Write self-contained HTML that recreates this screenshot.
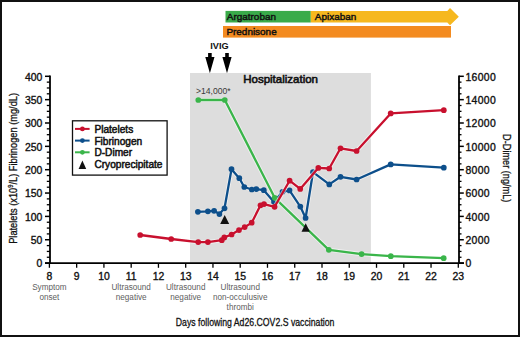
<!DOCTYPE html>
<html><head><meta charset="utf-8"><style>
html,body{margin:0;padding:0;background:#fff;}
body{width:520px;height:337px;overflow:hidden;}
svg{display:block;}
</style></head><body>
<svg width="520" height="337" viewBox="0 0 520 337">
<rect x="0" y="0" width="520" height="337" fill="#fff"/>
<rect x="190" y="73" width="180.9" height="190" fill="#dddddd"/>
<line x1="50" y1="75.6" x2="50" y2="264" stroke="#000" stroke-width="1.8"/>
<line x1="459" y1="75.6" x2="459" y2="264" stroke="#000" stroke-width="1.8"/>
<line x1="45" y1="263.1" x2="464" y2="263.1" stroke="#000" stroke-width="1.8"/>
<line x1="45" y1="263.10" x2="50" y2="263.10" stroke="#000" stroke-width="1.5"/>
<line x1="459" y1="263.10" x2="463.8" y2="263.10" stroke="#000" stroke-width="1.5"/>
<line x1="46.8" y1="257.26" x2="50" y2="257.26" stroke="#000" stroke-width="1.3"/>
<line x1="459" y1="257.26" x2="461.5" y2="257.26" stroke="#000" stroke-width="1.3"/>
<line x1="46.8" y1="251.43" x2="50" y2="251.43" stroke="#000" stroke-width="1.3"/>
<line x1="459" y1="251.43" x2="461.5" y2="251.43" stroke="#000" stroke-width="1.3"/>
<line x1="46.8" y1="245.59" x2="50" y2="245.59" stroke="#000" stroke-width="1.3"/>
<line x1="459" y1="245.59" x2="461.5" y2="245.59" stroke="#000" stroke-width="1.3"/>
<line x1="45" y1="239.75" x2="50" y2="239.75" stroke="#000" stroke-width="1.5"/>
<line x1="459" y1="239.75" x2="463.8" y2="239.75" stroke="#000" stroke-width="1.5"/>
<line x1="46.8" y1="233.91" x2="50" y2="233.91" stroke="#000" stroke-width="1.3"/>
<line x1="459" y1="233.91" x2="461.5" y2="233.91" stroke="#000" stroke-width="1.3"/>
<line x1="46.8" y1="228.08" x2="50" y2="228.08" stroke="#000" stroke-width="1.3"/>
<line x1="459" y1="228.08" x2="461.5" y2="228.08" stroke="#000" stroke-width="1.3"/>
<line x1="46.8" y1="222.24" x2="50" y2="222.24" stroke="#000" stroke-width="1.3"/>
<line x1="459" y1="222.24" x2="461.5" y2="222.24" stroke="#000" stroke-width="1.3"/>
<line x1="45" y1="216.40" x2="50" y2="216.40" stroke="#000" stroke-width="1.5"/>
<line x1="459" y1="216.40" x2="463.8" y2="216.40" stroke="#000" stroke-width="1.5"/>
<line x1="46.8" y1="210.56" x2="50" y2="210.56" stroke="#000" stroke-width="1.3"/>
<line x1="459" y1="210.56" x2="461.5" y2="210.56" stroke="#000" stroke-width="1.3"/>
<line x1="46.8" y1="204.73" x2="50" y2="204.73" stroke="#000" stroke-width="1.3"/>
<line x1="459" y1="204.73" x2="461.5" y2="204.73" stroke="#000" stroke-width="1.3"/>
<line x1="46.8" y1="198.89" x2="50" y2="198.89" stroke="#000" stroke-width="1.3"/>
<line x1="459" y1="198.89" x2="461.5" y2="198.89" stroke="#000" stroke-width="1.3"/>
<line x1="45" y1="193.05" x2="50" y2="193.05" stroke="#000" stroke-width="1.5"/>
<line x1="459" y1="193.05" x2="463.8" y2="193.05" stroke="#000" stroke-width="1.5"/>
<line x1="46.8" y1="187.21" x2="50" y2="187.21" stroke="#000" stroke-width="1.3"/>
<line x1="459" y1="187.21" x2="461.5" y2="187.21" stroke="#000" stroke-width="1.3"/>
<line x1="46.8" y1="181.38" x2="50" y2="181.38" stroke="#000" stroke-width="1.3"/>
<line x1="459" y1="181.38" x2="461.5" y2="181.38" stroke="#000" stroke-width="1.3"/>
<line x1="46.8" y1="175.54" x2="50" y2="175.54" stroke="#000" stroke-width="1.3"/>
<line x1="459" y1="175.54" x2="461.5" y2="175.54" stroke="#000" stroke-width="1.3"/>
<line x1="45" y1="169.70" x2="50" y2="169.70" stroke="#000" stroke-width="1.5"/>
<line x1="459" y1="169.70" x2="463.8" y2="169.70" stroke="#000" stroke-width="1.5"/>
<line x1="46.8" y1="163.86" x2="50" y2="163.86" stroke="#000" stroke-width="1.3"/>
<line x1="459" y1="163.86" x2="461.5" y2="163.86" stroke="#000" stroke-width="1.3"/>
<line x1="46.8" y1="158.03" x2="50" y2="158.03" stroke="#000" stroke-width="1.3"/>
<line x1="459" y1="158.03" x2="461.5" y2="158.03" stroke="#000" stroke-width="1.3"/>
<line x1="46.8" y1="152.19" x2="50" y2="152.19" stroke="#000" stroke-width="1.3"/>
<line x1="459" y1="152.19" x2="461.5" y2="152.19" stroke="#000" stroke-width="1.3"/>
<line x1="45" y1="146.35" x2="50" y2="146.35" stroke="#000" stroke-width="1.5"/>
<line x1="459" y1="146.35" x2="463.8" y2="146.35" stroke="#000" stroke-width="1.5"/>
<line x1="46.8" y1="140.51" x2="50" y2="140.51" stroke="#000" stroke-width="1.3"/>
<line x1="459" y1="140.51" x2="461.5" y2="140.51" stroke="#000" stroke-width="1.3"/>
<line x1="46.8" y1="134.68" x2="50" y2="134.68" stroke="#000" stroke-width="1.3"/>
<line x1="459" y1="134.68" x2="461.5" y2="134.68" stroke="#000" stroke-width="1.3"/>
<line x1="46.8" y1="128.84" x2="50" y2="128.84" stroke="#000" stroke-width="1.3"/>
<line x1="459" y1="128.84" x2="461.5" y2="128.84" stroke="#000" stroke-width="1.3"/>
<line x1="45" y1="123.00" x2="50" y2="123.00" stroke="#000" stroke-width="1.5"/>
<line x1="459" y1="123.00" x2="463.8" y2="123.00" stroke="#000" stroke-width="1.5"/>
<line x1="46.8" y1="117.16" x2="50" y2="117.16" stroke="#000" stroke-width="1.3"/>
<line x1="459" y1="117.16" x2="461.5" y2="117.16" stroke="#000" stroke-width="1.3"/>
<line x1="46.8" y1="111.33" x2="50" y2="111.33" stroke="#000" stroke-width="1.3"/>
<line x1="459" y1="111.33" x2="461.5" y2="111.33" stroke="#000" stroke-width="1.3"/>
<line x1="46.8" y1="105.49" x2="50" y2="105.49" stroke="#000" stroke-width="1.3"/>
<line x1="459" y1="105.49" x2="461.5" y2="105.49" stroke="#000" stroke-width="1.3"/>
<line x1="45" y1="99.65" x2="50" y2="99.65" stroke="#000" stroke-width="1.5"/>
<line x1="459" y1="99.65" x2="463.8" y2="99.65" stroke="#000" stroke-width="1.5"/>
<line x1="46.8" y1="93.81" x2="50" y2="93.81" stroke="#000" stroke-width="1.3"/>
<line x1="459" y1="93.81" x2="461.5" y2="93.81" stroke="#000" stroke-width="1.3"/>
<line x1="46.8" y1="87.98" x2="50" y2="87.98" stroke="#000" stroke-width="1.3"/>
<line x1="459" y1="87.98" x2="461.5" y2="87.98" stroke="#000" stroke-width="1.3"/>
<line x1="46.8" y1="82.14" x2="50" y2="82.14" stroke="#000" stroke-width="1.3"/>
<line x1="459" y1="82.14" x2="461.5" y2="82.14" stroke="#000" stroke-width="1.3"/>
<line x1="45" y1="76.30" x2="50" y2="76.30" stroke="#000" stroke-width="1.5"/>
<line x1="459" y1="76.30" x2="463.8" y2="76.30" stroke="#000" stroke-width="1.5"/>
<line x1="49.40" y1="263" x2="49.40" y2="267.8" stroke="#000" stroke-width="1.3"/>
<line x1="76.66" y1="263" x2="76.66" y2="267.8" stroke="#000" stroke-width="1.3"/>
<line x1="103.92" y1="263" x2="103.92" y2="267.8" stroke="#000" stroke-width="1.3"/>
<line x1="131.18" y1="263" x2="131.18" y2="267.8" stroke="#000" stroke-width="1.3"/>
<line x1="158.44" y1="263" x2="158.44" y2="267.8" stroke="#000" stroke-width="1.3"/>
<line x1="185.70" y1="263" x2="185.70" y2="267.8" stroke="#000" stroke-width="1.3"/>
<line x1="212.96" y1="263" x2="212.96" y2="267.8" stroke="#000" stroke-width="1.3"/>
<line x1="240.22" y1="263" x2="240.22" y2="267.8" stroke="#000" stroke-width="1.3"/>
<line x1="267.48" y1="263" x2="267.48" y2="267.8" stroke="#000" stroke-width="1.3"/>
<line x1="294.74" y1="263" x2="294.74" y2="267.8" stroke="#000" stroke-width="1.3"/>
<line x1="322.00" y1="263" x2="322.00" y2="267.8" stroke="#000" stroke-width="1.3"/>
<line x1="349.26" y1="263" x2="349.26" y2="267.8" stroke="#000" stroke-width="1.3"/>
<line x1="376.52" y1="263" x2="376.52" y2="267.8" stroke="#000" stroke-width="1.3"/>
<line x1="403.78" y1="263" x2="403.78" y2="267.8" stroke="#000" stroke-width="1.3"/>
<line x1="431.04" y1="263" x2="431.04" y2="267.8" stroke="#000" stroke-width="1.3"/>
<line x1="458.30" y1="263" x2="458.30" y2="267.8" stroke="#000" stroke-width="1.3"/>
<polyline points="197.9,211.8 207.9,211.3 214.1,210.8 219.4,214.1 224.5,208.3 231.5,169.2 239.3,178.2 244.3,187.0 251.8,189.5 256.3,189.1 263.8,190.2 274.0,202.1 282.5,191.8 289.5,190.4 300.3,206.6 305.6,218.0 313.0,172.2 329.3,184.4 340.5,176.8 356.6,179.5 390.7,164.4 443.8,167.7" fill="none" stroke="#fff" stroke-opacity="0.55" stroke-width="4.1" stroke-linejoin="round"/><polyline points="197.9,211.8 207.9,211.3 214.1,210.8 219.4,214.1 224.5,208.3 231.5,169.2 239.3,178.2 244.3,187.0 251.8,189.5 256.3,189.1 263.8,190.2 274.0,202.1 282.5,191.8 289.5,190.4 300.3,206.6 305.6,218.0 313.0,172.2 329.3,184.4 340.5,176.8 356.6,179.5 390.7,164.4 443.8,167.7" fill="none" stroke="#0d4f8b" stroke-width="2.3" stroke-linejoin="round"/><circle cx="197.9" cy="211.8" r="2.85" fill="#0d4f8b"/><circle cx="207.9" cy="211.3" r="2.85" fill="#0d4f8b"/><circle cx="214.1" cy="210.8" r="2.85" fill="#0d4f8b"/><circle cx="219.4" cy="214.1" r="2.85" fill="#0d4f8b"/><circle cx="224.5" cy="208.3" r="2.85" fill="#0d4f8b"/><circle cx="231.5" cy="169.2" r="2.85" fill="#0d4f8b"/><circle cx="239.3" cy="178.2" r="2.85" fill="#0d4f8b"/><circle cx="244.3" cy="187.0" r="2.85" fill="#0d4f8b"/><circle cx="251.8" cy="189.5" r="2.85" fill="#0d4f8b"/><circle cx="256.3" cy="189.1" r="2.85" fill="#0d4f8b"/><circle cx="263.8" cy="190.2" r="2.85" fill="#0d4f8b"/><circle cx="274.0" cy="202.1" r="2.85" fill="#0d4f8b"/><circle cx="282.5" cy="191.8" r="2.85" fill="#0d4f8b"/><circle cx="289.5" cy="190.4" r="2.85" fill="#0d4f8b"/><circle cx="300.3" cy="206.6" r="2.85" fill="#0d4f8b"/><circle cx="305.6" cy="218.0" r="2.85" fill="#0d4f8b"/><circle cx="313.0" cy="172.2" r="2.85" fill="#0d4f8b"/><circle cx="329.3" cy="184.4" r="2.85" fill="#0d4f8b"/><circle cx="340.5" cy="176.8" r="2.85" fill="#0d4f8b"/><circle cx="356.6" cy="179.5" r="2.85" fill="#0d4f8b"/><circle cx="390.7" cy="164.4" r="2.85" fill="#0d4f8b"/><circle cx="443.8" cy="167.7" r="2.85" fill="#0d4f8b"/>
<polyline points="198.3,100.0 224.8,100.0 274.7,197.8 328.8,249.8 361.6,254.1 390.8,256.2 443.7,258.2" fill="none" stroke="#fff" stroke-opacity="0.55" stroke-width="4.1" stroke-linejoin="round"/><polyline points="198.3,100.0 224.8,100.0 274.7,197.8 328.8,249.8 361.6,254.1 390.8,256.2 443.7,258.2" fill="none" stroke="#3ab54a" stroke-width="2.3" stroke-linejoin="round"/><circle cx="198.3" cy="100.0" r="2.85" fill="#3ab54a"/><circle cx="224.8" cy="100.0" r="2.85" fill="#3ab54a"/><circle cx="274.7" cy="197.8" r="2.85" fill="#3ab54a"/><circle cx="328.8" cy="249.8" r="2.85" fill="#3ab54a"/><circle cx="361.6" cy="254.1" r="2.85" fill="#3ab54a"/><circle cx="390.8" cy="256.2" r="2.85" fill="#3ab54a"/><circle cx="443.7" cy="258.2" r="2.85" fill="#3ab54a"/>
<polyline points="140.2,235.0 171.2,239.0 198.2,242.10000000000002 207.9,242.10000000000002 221.8,240.20000000000002 224.3,237.4 231.6,234.5 239.0,230.10000000000002 244.7,227.10000000000002 251.7,222.70000000000002 260.5,205.3 264.0,204.10000000000002 274.6,206.8 289.6,180.70000000000002 300.2,188.9 318.3,167.9 329.2,168.5 340.5,148.3 356.6,151.0 390.7,113.39999999999999 443.8,110.2" fill="none" stroke="#fff" stroke-opacity="0.55" stroke-width="4.1" stroke-linejoin="round"/><polyline points="140.2,235.0 171.2,239.0 198.2,242.10000000000002 207.9,242.10000000000002 221.8,240.20000000000002 224.3,237.4 231.6,234.5 239.0,230.10000000000002 244.7,227.10000000000002 251.7,222.70000000000002 260.5,205.3 264.0,204.10000000000002 274.6,206.8 289.6,180.70000000000002 300.2,188.9 318.3,167.9 329.2,168.5 340.5,148.3 356.6,151.0 390.7,113.39999999999999 443.8,110.2" fill="none" stroke="#c8102e" stroke-width="2.3" stroke-linejoin="round"/><circle cx="140.2" cy="235.0" r="2.85" fill="#c8102e"/><circle cx="171.2" cy="239.0" r="2.85" fill="#c8102e"/><circle cx="198.2" cy="242.10000000000002" r="2.85" fill="#c8102e"/><circle cx="207.9" cy="242.10000000000002" r="2.85" fill="#c8102e"/><circle cx="221.8" cy="240.20000000000002" r="2.85" fill="#c8102e"/><circle cx="224.3" cy="237.4" r="2.85" fill="#c8102e"/><circle cx="231.6" cy="234.5" r="2.85" fill="#c8102e"/><circle cx="239.0" cy="230.10000000000002" r="2.85" fill="#c8102e"/><circle cx="244.7" cy="227.10000000000002" r="2.85" fill="#c8102e"/><circle cx="251.7" cy="222.70000000000002" r="2.85" fill="#c8102e"/><circle cx="260.5" cy="205.3" r="2.85" fill="#c8102e"/><circle cx="264.0" cy="204.10000000000002" r="2.85" fill="#c8102e"/><circle cx="274.6" cy="206.8" r="2.85" fill="#c8102e"/><circle cx="289.6" cy="180.70000000000002" r="2.85" fill="#c8102e"/><circle cx="300.2" cy="188.9" r="2.85" fill="#c8102e"/><circle cx="318.3" cy="167.9" r="2.85" fill="#c8102e"/><circle cx="329.2" cy="168.5" r="2.85" fill="#c8102e"/><circle cx="340.5" cy="148.3" r="2.85" fill="#c8102e"/><circle cx="356.6" cy="151.0" r="2.85" fill="#c8102e"/><circle cx="390.7" cy="113.39999999999999" r="2.85" fill="#c8102e"/><circle cx="443.8" cy="110.2" r="2.85" fill="#c8102e"/>
<polygon points="220.2,223.9 229.2,223.9 224.7,214.9" fill="#111"/>
<polygon points="301.5,231.7 309.9,231.7 305.7,223.3" fill="#111"/>
<text x="42.3" y="267.40" font-family="Liberation Sans" font-size="10.4" fill="#111" stroke="#111" stroke-width="0.35" text-anchor="end">0</text>
<text x="465.4" y="267.40" font-family="Liberation Sans" font-size="10.4" fill="#111" stroke="#111" stroke-width="0.35" letter-spacing="0.35" text-anchor="start">0</text>
<text x="42.3" y="244.05" font-family="Liberation Sans" font-size="10.4" fill="#111" stroke="#111" stroke-width="0.35" text-anchor="end">50</text>
<text x="465.4" y="244.05" font-family="Liberation Sans" font-size="10.4" fill="#111" stroke="#111" stroke-width="0.35" letter-spacing="0.35" text-anchor="start">2000</text>
<text x="42.3" y="220.70" font-family="Liberation Sans" font-size="10.4" fill="#111" stroke="#111" stroke-width="0.35" text-anchor="end">100</text>
<text x="465.4" y="220.70" font-family="Liberation Sans" font-size="10.4" fill="#111" stroke="#111" stroke-width="0.35" letter-spacing="0.35" text-anchor="start">4000</text>
<text x="42.3" y="197.35" font-family="Liberation Sans" font-size="10.4" fill="#111" stroke="#111" stroke-width="0.35" text-anchor="end">150</text>
<text x="465.4" y="197.35" font-family="Liberation Sans" font-size="10.4" fill="#111" stroke="#111" stroke-width="0.35" letter-spacing="0.35" text-anchor="start">6000</text>
<text x="42.3" y="174.00" font-family="Liberation Sans" font-size="10.4" fill="#111" stroke="#111" stroke-width="0.35" text-anchor="end">200</text>
<text x="465.4" y="174.00" font-family="Liberation Sans" font-size="10.4" fill="#111" stroke="#111" stroke-width="0.35" letter-spacing="0.35" text-anchor="start">8000</text>
<text x="42.3" y="150.65" font-family="Liberation Sans" font-size="10.4" fill="#111" stroke="#111" stroke-width="0.35" text-anchor="end">250</text>
<text x="465.4" y="150.65" font-family="Liberation Sans" font-size="10.4" fill="#111" stroke="#111" stroke-width="0.35" letter-spacing="0.35" text-anchor="start">10000</text>
<text x="42.3" y="127.30" font-family="Liberation Sans" font-size="10.4" fill="#111" stroke="#111" stroke-width="0.35" text-anchor="end">300</text>
<text x="465.4" y="127.30" font-family="Liberation Sans" font-size="10.4" fill="#111" stroke="#111" stroke-width="0.35" letter-spacing="0.35" text-anchor="start">12000</text>
<text x="42.3" y="103.95" font-family="Liberation Sans" font-size="10.4" fill="#111" stroke="#111" stroke-width="0.35" text-anchor="end">350</text>
<text x="465.4" y="103.95" font-family="Liberation Sans" font-size="10.4" fill="#111" stroke="#111" stroke-width="0.35" letter-spacing="0.35" text-anchor="start">14000</text>
<text x="42.3" y="80.60" font-family="Liberation Sans" font-size="10.4" fill="#111" stroke="#111" stroke-width="0.35" text-anchor="end">400</text>
<text x="465.4" y="80.60" font-family="Liberation Sans" font-size="10.4" fill="#111" stroke="#111" stroke-width="0.35" letter-spacing="0.35" text-anchor="start">16000</text>
<text x="49.40" y="280.2" font-family="Liberation Sans" font-size="10.4" fill="#111" stroke="#111" stroke-width="0.35" text-anchor="middle">8</text>
<text x="76.66" y="280.2" font-family="Liberation Sans" font-size="10.4" fill="#111" stroke="#111" stroke-width="0.35" text-anchor="middle">9</text>
<text x="103.92" y="280.2" font-family="Liberation Sans" font-size="10.4" fill="#111" stroke="#111" stroke-width="0.35" text-anchor="middle">10</text>
<text x="131.18" y="280.2" font-family="Liberation Sans" font-size="10.4" fill="#111" stroke="#111" stroke-width="0.35" text-anchor="middle">11</text>
<text x="158.44" y="280.2" font-family="Liberation Sans" font-size="10.4" fill="#111" stroke="#111" stroke-width="0.35" text-anchor="middle">12</text>
<text x="185.70" y="280.2" font-family="Liberation Sans" font-size="10.4" fill="#111" stroke="#111" stroke-width="0.35" text-anchor="middle">13</text>
<text x="212.96" y="280.2" font-family="Liberation Sans" font-size="10.4" fill="#111" stroke="#111" stroke-width="0.35" text-anchor="middle">14</text>
<text x="240.22" y="280.2" font-family="Liberation Sans" font-size="10.4" fill="#111" stroke="#111" stroke-width="0.35" text-anchor="middle">15</text>
<text x="267.48" y="280.2" font-family="Liberation Sans" font-size="10.4" fill="#111" stroke="#111" stroke-width="0.35" text-anchor="middle">16</text>
<text x="294.74" y="280.2" font-family="Liberation Sans" font-size="10.4" fill="#111" stroke="#111" stroke-width="0.35" text-anchor="middle">17</text>
<text x="322.00" y="280.2" font-family="Liberation Sans" font-size="10.4" fill="#111" stroke="#111" stroke-width="0.35" text-anchor="middle">18</text>
<text x="349.26" y="280.2" font-family="Liberation Sans" font-size="10.4" fill="#111" stroke="#111" stroke-width="0.35" text-anchor="middle">19</text>
<text x="376.52" y="280.2" font-family="Liberation Sans" font-size="10.4" fill="#111" stroke="#111" stroke-width="0.35" text-anchor="middle">20</text>
<text x="403.78" y="280.2" font-family="Liberation Sans" font-size="10.4" fill="#111" stroke="#111" stroke-width="0.35" text-anchor="middle">21</text>
<text x="431.04" y="280.2" font-family="Liberation Sans" font-size="10.4" fill="#111" stroke="#111" stroke-width="0.35" text-anchor="middle">22</text>
<text x="458.30" y="280.2" font-family="Liberation Sans" font-size="10.4" fill="#111" stroke="#111" stroke-width="0.35" text-anchor="middle">23</text>
<rect x="225.5" y="10.9" width="85.3" height="11.6" fill="#3aab4a"/>
<polygon points="310.8,10.9 447.3,10.9 450,8.1 458.8,16.7 450,25.3 447.3,22.5 310.8,22.5" fill="#f6b81f"/>
<rect x="223" y="26" width="228" height="11.6" fill="#f38b20"/>
<text x="226.8" y="20.2" font-family="Liberation Sans" font-size="9.95" fill="#111" stroke="#111" stroke-width="0.45">Argatroban</text>
<text x="314.8" y="20.2" font-family="Liberation Sans" font-size="9.95" fill="#111" stroke="#111" stroke-width="0.45">Apixaban</text>
<text x="226.4" y="35" font-family="Liberation Sans" font-size="9.95" fill="#111" stroke="#111" stroke-width="0.45">Prednisone</text>
<text x="219.5" y="48.8" font-family="Liberation Sans" font-size="9.2" font-weight="bold" text-anchor="middle" fill="#111">IVIG</text>
<polygon points="208.1,53 211.70000000000002,53 211.70000000000002,57 214.5,57 209.9,73.2 205.3,57 208.1,57" fill="#000"/>
<polygon points="225.2,53 228.8,53 228.8,57 231.6,57 227,73.2 222.4,57 225.2,57" fill="#000"/>
<text x="280.6" y="82.9" font-family="Liberation Sans" font-size="11.5" text-anchor="middle" fill="#111" stroke="#111" stroke-width="0.6">Hospitalization</text>
<text x="196" y="94.4" font-family="Liberation Sans" font-size="8.6" fill="#3a3a3a">&gt;14,000*</text>
<rect x="72.5" y="120.8" width="94.6" height="54.3" fill="#fff" stroke="#111" stroke-width="1.3"/>
<line x1="75" y1="128.9" x2="89.6" y2="128.9" stroke="#c8102e" stroke-width="2"/>
<circle cx="82.4" cy="128.9" r="2.4" fill="#c8102e"/>
<text x="94.4" y="132.90" font-family="Liberation Sans" font-size="10.15" fill="#111" stroke="#111" stroke-width="0.5">Platelets</text>
<line x1="75" y1="140.6" x2="89.6" y2="140.6" stroke="#0d4f8b" stroke-width="2"/>
<circle cx="82.4" cy="140.6" r="2.4" fill="#0d4f8b"/>
<text x="94.4" y="144.60" font-family="Liberation Sans" font-size="10.15" fill="#111" stroke="#111" stroke-width="0.5">Fibrinogen</text>
<line x1="75" y1="152.3" x2="89.6" y2="152.3" stroke="#3ab54a" stroke-width="2"/>
<circle cx="82.4" cy="152.3" r="2.4" fill="#3ab54a"/>
<text x="94.4" y="156.30" font-family="Liberation Sans" font-size="10.15" fill="#111" stroke="#111" stroke-width="0.5">D-Dimer</text>
<polygon points="78.6,169 86.2,169 82.4,160.5" fill="#111"/>
<text x="94.4" y="168.10" font-family="Liberation Sans" font-size="10.15" fill="#111" stroke="#111" stroke-width="0.5">Cryoprecipitate</text>
<text transform="translate(17.4,168.4) rotate(-90) scale(0.814,1)" font-family="Liberation Sans" font-size="11.4" text-anchor="middle" fill="#111" stroke="#111" stroke-width="0.3">Platelets (x10<tspan font-size="7" dy="-4">9</tspan><tspan dy="4">/L) Fibrinogen (mg/dL)</tspan></text>
<text transform="translate(502.9,168.2) rotate(90) scale(0.805,1)" font-family="Liberation Sans" font-size="11.4" text-anchor="middle" fill="#111" stroke="#111" stroke-width="0.3">D-Dimer (ng/mL)</text>
<text transform="translate(255.1,326.4) scale(0.765,1)" font-family="Liberation Sans" font-size="11.4" text-anchor="middle" fill="#111" stroke="#111" stroke-width="0.3">Days following Ad26.COV2.S vaccination</text>
<text transform="translate(49.40,289.60) scale(0.95,1)" font-family="Liberation Sans" font-size="8.6" text-anchor="middle" fill="#606060">Symptom</text><text transform="translate(49.40,299.90) scale(0.95,1)" font-family="Liberation Sans" font-size="8.6" text-anchor="middle" fill="#606060">onset</text>
<text transform="translate(131.18,289.60) scale(0.95,1)" font-family="Liberation Sans" font-size="8.6" text-anchor="middle" fill="#606060">Ultrasound</text><text transform="translate(131.18,299.90) scale(0.95,1)" font-family="Liberation Sans" font-size="8.6" text-anchor="middle" fill="#606060">negative</text>
<text transform="translate(185.70,289.60) scale(0.95,1)" font-family="Liberation Sans" font-size="8.6" text-anchor="middle" fill="#606060">Ultrasound</text><text transform="translate(185.70,299.90) scale(0.95,1)" font-family="Liberation Sans" font-size="8.6" text-anchor="middle" fill="#606060">negative</text>
<text transform="translate(240.22,289.60) scale(0.95,1)" font-family="Liberation Sans" font-size="8.6" text-anchor="middle" fill="#606060">Ultrasound</text><text transform="translate(240.22,299.90) scale(0.95,1)" font-family="Liberation Sans" font-size="8.6" text-anchor="middle" fill="#606060">non-occulusive</text><text transform="translate(240.22,310.20) scale(0.95,1)" font-family="Liberation Sans" font-size="8.6" text-anchor="middle" fill="#606060">thrombi</text>
<rect x="1" y="1" width="518" height="335" fill="none" stroke="#111" stroke-width="2"/>
</svg>
</body></html>
